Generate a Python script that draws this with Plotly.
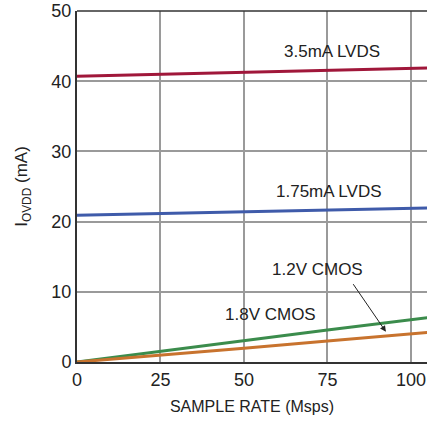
import plotly.graph_objects as go

sample_rate = [0, 25, 50, 75, 105]
lvds_35 = [40.7, 41.0, 41.3, 41.6, 41.9]
lvds_175 = [20.9, 21.15, 21.4, 21.65, 21.95]
cmos_18 = [0.0, 1.55, 3.0, 4.55, 6.3]
cmos_12 = [0.0, 0.95, 1.95, 3.0, 4.2]

x_ticks = [0, 25, 50, 75, 100]
y_ticks = [0, 10, 20, 30, 40, 50]

FONT = "Liberation Sans, Arial, sans-serif"

fig = go.Figure()
series = [
    (lvds_35, "#A0173A"),
    (lvds_175, "#3F5BAA"),
    (cmos_18, "#3B8C4C"),
    (cmos_12, "#C8732E"),
]
for ys, col in series:
    fig.add_trace(go.Scatter(x=sample_rate, y=ys, mode="lines",
                             line=dict(color=col, width=3), showlegend=False,
                             hoverinfo="skip"))

labels = [
    ("3.5mA LVDS", 76.5, 44.2),
    ("1.75mA LVDS", 75.5, 24.3),
    ("1.2V CMOS", 72, 13.2),
    ("1.8V CMOS", 58, 6.8),
]
for txt, x, y in labels:
    fig.add_annotation(x=x, y=y, text=txt, showarrow=False,
                       font=dict(family=FONT, size=17, color="#222"))

# arrow from 1.2V CMOS label to orange line
fig.add_annotation(x=92.5, y=4.3, ax=82.4, ay=11.3, axref="x", ayref="y",
                   xref="x", yref="y", text="", showarrow=True,
                   arrowhead=2, arrowsize=1.2, arrowwidth=1, arrowcolor="#222")

fig.update_xaxes(range=[0, 104.8], tickvals=x_ticks, ticks="", showgrid=True,
                 gridcolor="#9a9a9a", gridwidth=1.5, zeroline=False,
                 showline=True, linecolor="#333", linewidth=2, mirror=False,
                 automargin=False,
                 tickfont=dict(family=FONT, size=18, color="#222"),
                 title=dict(text="SAMPLE RATE (Msps)", standoff=12,
                            font=dict(family=FONT, size=16, color="#222")))
fig.update_yaxes(range=[0, 50], tickvals=y_ticks, ticks="", showgrid=True,
                 gridcolor="#9a9a9a", gridwidth=1.5, zeroline=False,
                 showline=True, linecolor="#333", linewidth=2,
                 automargin=False,
                 tickfont=dict(family=FONT, size=18, color="#222"),
                 title=dict(text="I<sub>OVDD</sub> (mA)", standoff=19,
                            font=dict(family=FONT, size=17, color="#222")))

# top border
fig.add_shape(type="line", xref="paper", yref="paper", x0=0, x1=1, y0=1, y1=1,
              line=dict(color="#333", width=1.5))

fig.update_layout(width=427, height=421, margin=dict(l=77, r=0, t=11, b=59),
                  plot_bgcolor="white", paper_bgcolor="white")

fig.write_html("out.html", config={"displayModeBar": False},
               post_script="document.body.style.margin='0';")
